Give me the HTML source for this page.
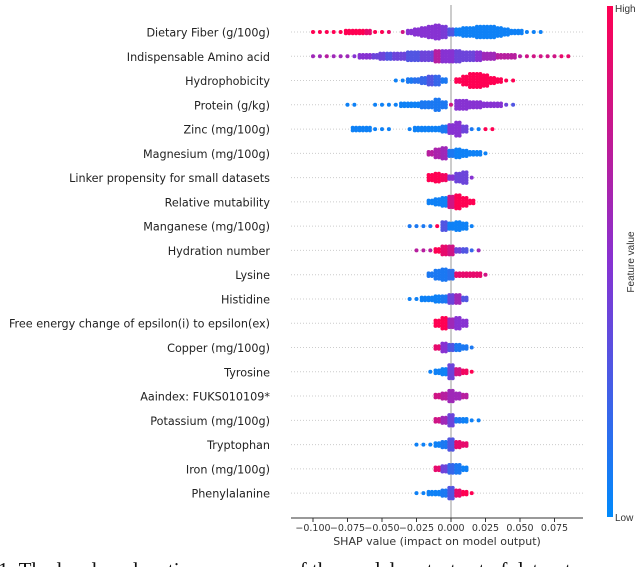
<!DOCTYPE html>
<html><head><meta charset="utf-8"><style>
html,body{margin:0;padding:0;background:#fff;width:640px;height:567px;overflow:hidden}
svg{display:block}
</style></head><body>
<svg id="chart" width="640" height="567" viewBox="0 0 640 567" xmlns="http://www.w3.org/2000/svg">
<defs><linearGradient id="cb" x1="0" y1="1" x2="0" y2="0">
<stop offset="0" stop-color="#008afb"/><stop offset="0.5" stop-color="#8732d2"/><stop offset="1" stop-color="#ff0052"/></linearGradient></defs>
<g id="grid"></g><g id="dots"></g><g id="labels"></g><g id="axis"></g>
<rect x="607" y="6" width="6" height="511" fill="url(#cb)"/>
<text x="615" y="12" font-family="Liberation Sans, sans-serif" font-size="10" fill="#333">High</text>
<text x="615" y="521" font-family="Liberation Sans, sans-serif" font-size="10" fill="#333">Low</text>
<text x="634" y="262" transform="rotate(-90 634 262)" text-anchor="middle" font-family="Liberation Sans, sans-serif" font-size="10" fill="#333">Feature value</text>
<text x="437" y="545" text-anchor="middle" font-family="DejaVu Sans, sans-serif" font-size="11" fill="#333">SHAP value (impact on model output)</text>
<text x="-2" y="577" font-family="Liberation Serif, serif" font-size="21" fill="#111">1.  The local explanation summary of the model on test set of dataset</text>
</svg>
<script>
const features=["Dietary Fiber (g/100g)","Indispensable Amino acid","Hydrophobicity","Protein (g/kg)","Zinc (mg/100g)","Magnesium (mg/100g)","Linker propensity for small datasets","Relative mutability","Manganese (mg/100g)","Hydration number","Lysine","Histidine","Free energy change of epsilon(i) to epsilon(ex)","Copper (mg/100g)","Tyrosine","Aaindex: FUKS010109*","Potassium (mg/100g)","Tryptophan","Iron (mg/100g)","Phenylalanine"];
// bin values start at binStart (index k -> -0.100 + 0.005k)
const binStart=[0,0,12,5,6,17,17,17,14,15,17,14,18,18,17,18,18,15,18,15];
const counts=[
[1,1,1,1,1,2,2,2,2,1,1,1,0,1,2,3,4,5,6,5,3,3,4,4,5,5,5,4,3,2,2,1,1,1],
[1,1,1,1,1,1,1,2,2,2,3,3,3,3,4,4,4,4,5,5,5,5,4,4,4,3,3,2,2,2,1,1,1,1,1,1,1,1],
[1,1,2,2,3,4,4,2,0,2,4,6,6,5,3,2,1,1],
[1,1,0,0,1,1,1,1,2,2,2,3,3,5,3,1,4,4,3,3,2,2,2,1,1],
[2,2,2,1,1,1,0,0,1,2,2,2,2,3,4,6,3,1,1,1,1],
[2,4,5,3,4,3,2,2,1],
[3,4,3,2,4,5,1],
[2,3,4,5,6,4,2],
[1,1,1,1,1,4,3,4,3,1],
[1,1,1,2,4,4,2,2,1,1],
[2,4,5,4,2,2,2,2,1],
[1,1,2,2,3,3,4,4,2],
[3,5,4,5,3],
[2,4,3,3,2,1],
[1,2,3,6,3,2,1],
[2,3,5,3,2],
[2,3,5,2,2,1,1],
[1,1,1,2,3,5,3,2],
[2,3,4,4,2],
[1,1,2,2,3,5,3,2,1]];
const colors=[
[1,1,1,1,1,1,1,1,0.9,1,1,0.9,1,0.8,0.5,0.5,0.5,0.5,0.5,0.45,0.3,0.05,0.05,0.05,0.05,0.05,0.05,0.05,0.05,0.05,0.05,0.05,0.05,0.05],
[0.6,0.6,0.7,0.6,0.6,0.6,0.5,0.5,0.5,0.4,0.4,0.3,0.4,0.4,0.3,0.3,0.4,0.4,0.7,0.5,0.5,0.4,0.4,0.4,0.5,0.6,0.6,0.7,0.7,0.7,0.7,0.8,0.8,0.8,0.8,0.8,0.9,0.9],
[0.05,0.05,0.1,0.15,0.2,0.3,0.2,0.1,0,1,1,1,1,1,1,1,1,1],
[0.05,0.05,0,0,0.05,0.05,0.05,0.05,0.05,0.05,0.05,0.1,0.1,0.1,0.1,0.8,0.5,0.5,0.5,0.5,0.5,0.5,0.5,0.4,0.3],
[0.05,0.05,0.05,0.05,0.05,0.05,0,0,0.05,0.05,0.05,0.05,0.05,0.1,0.5,0.5,0.4,0.1,0.05,1,1],
[0.7,0.65,0.6,0.1,0.05,0.05,0.05,0.05,0.05],
[1,1,0.95,0.5,0.4,0.4,0.5],
[0.05,0.05,0.05,0.8,1,1,1],
[0.1,0.1,0.1,0.1,1,0.3,0.05,0.05,0.05,0.05],
[0.7,0.7,0.7,1,0.9,0.8,0.4,0.3,0.2,0.6],
[0.1,0.1,0.1,0.15,0.9,0.9,0.9,0.9,0.8],
[0.05,0.05,0.05,0.05,0.05,0.1,0.4,0.6,0.3],
[1,1,0.6,0.5,0.5],
[0.9,0.5,0.3,0.1,0.1,0.1],
[0.05,0.05,0.05,0.4,0.8,0.95,1],
[0.8,0.7,0.6,0.6,0.7],
[0.8,0.6,0.4,0.1,0.05,0.05,0.05],
[0.05,0.05,0.05,0.05,0.1,0.3,0.9,0.9],
[0.9,0.4,0.2,0.1,0.05],
[0.05,0.05,0.05,0.05,0.1,0.3,0.9,1,1]];
const tickValues=[-0.100,-0.075,-0.050,-0.025,0.000,0.025,0.050,0.075];
const tickLabels=["\u22120.100","\u22120.075","\u22120.050","\u22120.025","0.000","0.025","0.050","0.075"];

const NS="http://www.w3.org/2000/svg";
const xScale=v=>451+v*1380;
const yScale=i=>32+i*24.27;
function col(t){
  const a=[0,138,250],m=[135,50,210],b=[255,0,82];
  let p,q,u;
  if(t<0.5){p=a;q=m;u=t/0.5}else{p=m;q=b;u=(t-0.5)/0.5}
  return "rgb("+p.map((c,i)=>Math.round(c+(q[i]-c)*u)).join(",")+")";
}
function mk(tag,attrs,parent){const e=document.createElementNS(NS,tag);for(const k in attrs)e.setAttribute(k,attrs[k]);parent.appendChild(e);return e;}
const grid=document.getElementById("grid"),dots=document.getElementById("dots"),labels=document.getElementById("labels"),axis=document.getElementById("axis");
features.forEach((f,i)=>{
  const y=yScale(i);
  const gl=mk("line",{x1:291,x2:583,y1:y,y2:y,stroke:"#ccc","stroke-width":1,"stroke-dasharray":"1 2"},grid);
  
  
  const t=mk("text",{x:270,y:y+4.5,"text-anchor":"end","font-family":"DejaVu Sans, sans-serif","font-size":"11.2",fill:"#222"},labels);
  t.textContent=f;
  
  
  const g=mk("g",{},dots);
  
  
  counts[i].forEach((c,j)=>{
    const v=-0.100+0.005*(binStart[i]+j);
    const cx=xScale(v);
    const fill=col(colors[i][j]);
    const offs=c>=2?[-1.7,1.7]:[0];
    offs.forEach(o=>{
      for(let n=0;n<c;n++){
        const dy=(n-(c-1)/2)*2.6;
        const d=mk("circle",{cx:cx+o,cy:y+dy,r:2.0,fill:fill},g);
        
        
      }
    });
  });
});
const zl=mk("line",{x1:451,x2:451,y1:5,y2:518,stroke:"#999","stroke-width":1},grid);


const al=mk("line",{x1:291,x2:583,y1:518,y2:518,stroke:"#333","stroke-width":1},axis);


tickValues.forEach((v,i)=>{
  const x=xScale(v);
  const tk=mk("line",{x1:x,x2:x,y1:518,y2:522,stroke:"#333"},axis);
  
  
  const t=mk("text",{x:x,y:531,"text-anchor":"middle","font-family":"DejaVu Sans, sans-serif","font-size":"9.5",fill:"#333"},axis);
  t.textContent=tickLabels[i];
  
  
});
</script>
</body></html>
